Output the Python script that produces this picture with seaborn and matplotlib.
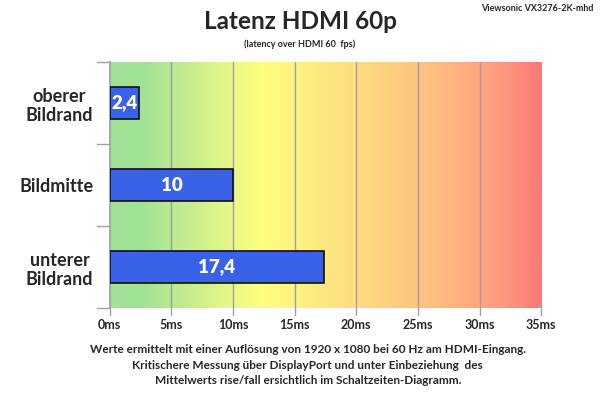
import numpy as np
import pandas as pd
import matplotlib
matplotlib.use("Agg")
import matplotlib.pyplot as plt
from matplotlib.colors import LinearSegmentedColormap
import seaborn as sns

# data
categories = ["oberer\nBildrand", "Bildmitte", "unterer\nBildrand"]
latency_ms = [2.4, 10, 17.4]
value_labels = ["2,4", "10", "17,4"]
x_ticks = [0, 5, 10, 15, 20, 25, 30, 35]
x_tick_labels = [str(t) + "ms" for t in x_ticks]

df = pd.DataFrame({"pos": categories, "ms": latency_ms})

sns.set_theme(style="white")
plt.rcParams['font.family'] = ['Lato', 'DejaVu Sans']

fig = plt.figure(figsize=(6, 3.95), dpi=100)
ax = fig.add_axes([0.183, 0.22, 0.719, 0.623])

# background gradient green -> yellow -> red
cmap = LinearSegmentedColormap.from_list("lat", [
    (0.00, "#a0e296"), (0.07, "#a0e296"), (0.35, "#ffff80"),
    (0.55, "#fde07e"), (0.75, "#ffbe80"), (0.90, "#ff9c7e"), (1.00, "#ff7878")])
grad = np.linspace(0, 1, 256).reshape(1, -1)
ax.imshow(grad, aspect="auto", cmap=cmap, extent=[0, 35, 2.5, -0.5], zorder=0)

sns.barplot(data=df, x="ms", y="pos", orient="h", color="#3a62e8",
            saturation=1, width=0.4, edgecolor="#101010", linewidth=1.2, ax=ax, zorder=3)

for i, (v, lab) in enumerate(zip(latency_ms, value_labels)):
    ax.text(v / 2, i, lab, color="white", fontsize=13.5, fontweight="heavy",
            ha="center", va="center", zorder=4)

ax.set_xlim(0, 35)
ax.set_ylim(2.5, -0.5)
ax.set_xticks(x_ticks)
ax.set_xticklabels(x_tick_labels, fontsize=9, fontweight="bold")
ax.set_yticks([0, 1, 2])
ax.set_yticklabels(categories, fontsize=13, fontweight="bold", multialignment="center")
ax.tick_params(axis="y", length=0, pad=12)
ax.tick_params(axis="x", length=0, pad=8)
for x in x_ticks[1:]:
    ax.axvline(x, color="#a0a0a0", lw=1, zorder=1)
for y in [-0.5, 0.5, 1.5, 2.5]:
    ax.plot([-0.03, 0], [y, y], transform=ax.get_yaxis_transform(),
            color="#a0a0a0", lw=1, clip_on=False)
for x in x_ticks:
    ax.plot([x, x], [0, -0.03], transform=ax.get_xaxis_transform(),
            color="#a0a0a0", lw=1, clip_on=False)
ax.set_xlabel("")
ax.set_ylabel("")
for s in ["top", "right", "bottom"]:
    ax.spines[s].set_visible(False)
ax.spines["left"].set_color("#a0a0a0")

fig.text(0.5, 0.945, "Latenz HDMI 60p", fontsize=17.5, fontweight="bold",
         ha="center", va="center")
fig.text(0.5, 0.888, "(latency over HDMI 60  fps)", fontsize=6.5,
         fontweight="bold", ha="center", va="center")
fig.text(0.99, 0.978, "Viewsonic VX3276-2K-mhd", fontsize=6.5,
         fontweight="bold", ha="right", va="center")
fig.text(0.513, 0.114, "Werte ermittelt mit einer Auflösung von 1920 x 1080 bei 60 Hz am HDMI-Eingang.",
         fontsize=8.5, fontweight="bold", ha="center", va="center")
fig.text(0.513, 0.075, "Kritischere Messung über DisplayPort und unter Einbeziehung  des",
         fontsize=8.5, fontweight="bold", ha="center", va="center")
fig.text(0.513, 0.036, "Mittelwerts rise/fall ersichtlich im Schaltzeiten-Diagramm.",
         fontsize=8.5, fontweight="bold", ha="center", va="center")

fig.savefig("out.png", dpi=100)
